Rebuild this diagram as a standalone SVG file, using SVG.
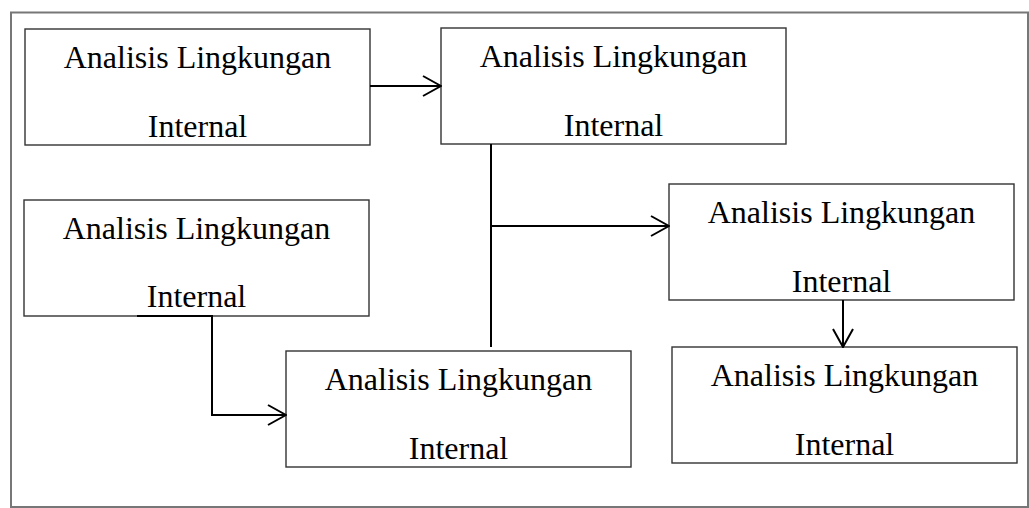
<svg xmlns="http://www.w3.org/2000/svg" width="1029" height="508" viewBox="0 0 1029 508">
  <style>
    .box { fill: #ffffff; stroke: #333333; stroke-width: 1.4; }
    .t { font-family: "Liberation Serif", "Times New Roman", serif; font-size: 32px; fill: #000000; text-anchor: middle; }
    .conn { fill: none; stroke: #000000; stroke-width: 2; }
  </style>
  <defs>
    <marker id="arr" viewBox="0 0 20 22" refX="19" refY="11" markerWidth="20" markerHeight="22" markerUnits="userSpaceOnUse" orient="auto">
      <path d="M1,1 L19,11 L1,21" fill="none" stroke="#000000" stroke-width="2"/>
    </marker>
  </defs>
  <rect x="11" y="12.5" width="1017" height="494.5" fill="#ffffff" stroke="#777777" stroke-width="2"/>
  <g id="node-a">
    <rect class="box" x="25" y="29" width="345" height="116"/>
    <text class="t" x="197.5" y="68">Analisis Lingkungan</text>
    <text class="t" x="197.5" y="137">Internal</text>
  </g>
  <g id="node-b">
    <rect class="box" x="441" y="28" width="345" height="116"/>
    <text class="t" x="613.5" y="67">Analisis Lingkungan</text>
    <text class="t" x="613.5" y="136">Internal</text>
  </g>
  <g id="node-c">
    <rect class="box" x="669" y="184" width="345" height="116"/>
    <text class="t" x="841.5" y="223">Analisis Lingkungan</text>
    <text class="t" x="841.5" y="292">Internal</text>
  </g>
  <g id="node-d">
    <rect class="box" x="24" y="200" width="345" height="116"/>
    <text class="t" x="196.5" y="239">Analisis Lingkungan</text>
    <text class="t" x="196.5" y="307">Internal</text>
  </g>
  <g id="node-e">
    <rect class="box" x="286" y="351" width="345" height="116"/>
    <text class="t" x="458.5" y="390">Analisis Lingkungan</text>
    <text class="t" x="458.5" y="459">Internal</text>
  </g>
  <g id="node-f">
    <rect class="box" x="672" y="347" width="345" height="116"/>
    <text class="t" x="844.5" y="386">Analisis Lingkungan</text>
    <text class="t" x="844.5" y="455">Internal</text>
  </g>
  <g id="connectors">
    <line class="conn" x1="370" y1="86" x2="441" y2="86" marker-end="url(#arr)"/>
    <line class="conn" x1="491" y1="144" x2="491" y2="347"/>
    <line class="conn" x1="491" y1="226" x2="669" y2="226" marker-end="url(#arr)"/>
    <line class="conn" x1="843" y1="300" x2="843" y2="347" marker-end="url(#arr)"/>
    <path class="conn" d="M137,316 H212 V415 H286" marker-end="url(#arr)"/>
  </g>
</svg>
